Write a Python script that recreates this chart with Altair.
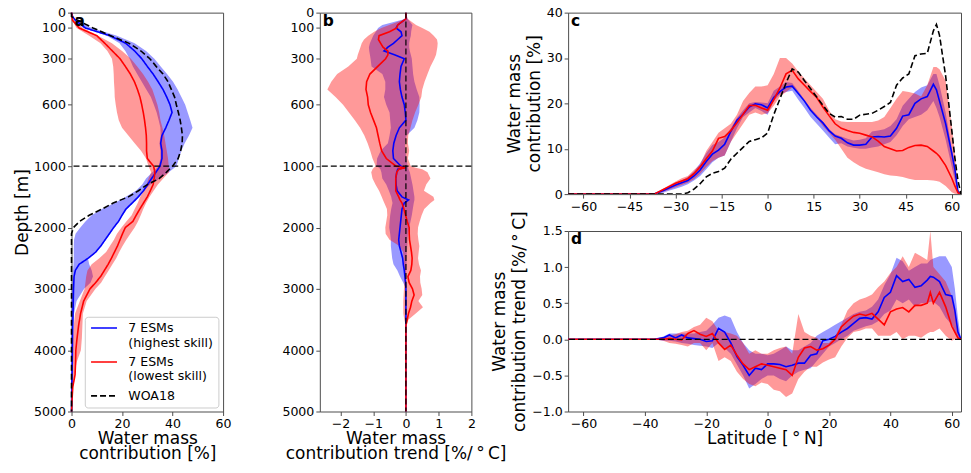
import altair as alt
import pandas as pd

# ---------------- data ----------------
SERIES = ["7 ESMs|(highest skill)", "7 ESMs|(lowest skill)", "WOA18"]
DEPTH_TICKS = [0, 100, 300, 600, 1000, 2000, 3000, 4000, 5000]
REF_DEPTH = [1000]
REF_ZERO = [0]

# panel a : water mass contribution vs depth
DEPTH_A = [0, 25, 50, 100, 150, 200, 250, 300, 350, 400, 450, 500, 550, 600, 650, 700, 750, 800, 850, 900,
           950, 1000, 1100, 1200, 1300, 1400, 1500, 1600, 1700, 1800, 1900, 2000, 2100, 2200, 2300, 2400, 2500,
           2600, 2700, 2800, 2900, 3000, 3200, 3400, 3600, 3800, 4000, 4200, 4400, 4600, 4800, 5000]
BLUE_A = [0, 0.4, 1.5, 5.5, 15.2, 21.5, 25.0, 27.8, 30.0, 32.3, 34.3, 36.2, 37.7, 39.0, 39.8, 38.6, 37.3, 35.8,
          35.3, 35.8, 35.8, 35.0, 33.4, 31.7, 30.1, 28.5, 26.4, 24.0, 21.5, 20.0, 18.6, 16.7, 15.0, 13.3, 11.6,
          9.6, 6.6, 3.0, 1.5, 1.0, 0.9, 0.8, 0.7, 0.6, 0.5, 0.4, 0.35, 0.3, 0.2, 0.1, 0.05, 0]
BLUE_A_LO = [0, 0.3, 1.2, 4.8, 14.0, 19.0, 21.3, 23.0, 24.3, 26.0, 27.8, 29.6, 31.4, 32.6, 33.7, 34.5, 35.2,
             35.3, 34.8, 35.2, 35.2, 34.5, 32.0, 29.5, 28.0, 25.5, 21.5, 17.0, 12.0, 8.0, 5.5, 3.5, 1.6, 1.0,
             0.9, 0.9, 0.9, 0.8, 0.6, 0.5, 0.4, 0.3, 0, 0, 0, 0, 0, 0, 0, 0, 0, 0]
BLUE_A_HI = [0, 0.5, 2.0, 8.0, 18.0, 25.0, 29.5, 32.8, 35.3, 37.8, 40.2, 42.0, 43.5, 45.0, 46.0, 47.0, 47.9,
             46.5, 44.8, 43.5, 42.5, 41.5, 38.5, 35.0, 31.2, 28.5, 27.0, 24.5, 22.0, 20.2, 18.8, 16.8, 15.2,
             13.5, 11.8, 9.8, 6.5, 7.0, 8.0, 8.5, 7.5, 5.0, 2.0, 1.0, 0.6, 0.4, 0.3, 0.2, 0.1, 0, 0, 0]
RED_A = [0, 0.2, 0.4, 3.0, 10.0, 13.2, 16.2, 19.2, 21.3, 23.3, 24.9, 26.1, 27.1, 27.8, 28.4, 28.9, 29.3, 29.6,
         29.7, 29.7, 30.0, 32.5, 33.0, 32.7, 32.3, 31.2, 30.0, 28.5, 27.0, 25.6, 24.3, 21.3, 20.2, 19.2, 18.2,
         17.0, 15.8, 14.5, 13.0, 11.5, 9.5, 7.3, 4.8, 3.6, 2.8, 2.2, 1.7, 1.6, 1.4, 0.5, 0.2, 0]
RED_A_LO = [0, 0.1, 0.3, 2.0, 7.0, 11.5, 14.2, 16.0, 16.5, 16.7, 16.8, 17.0, 17.1, 17.5, 18.0, 18.7, 20.0, 22.5,
            25.0, 27.5, 29.5, 30.5, 31.5, 30.5, 29.7, 28.5, 27.2, 26.2, 25.0, 23.8, 21.7, 19.8, 18.0, 16.8, 15.2,
            13.7, 11.0, 8.0, 6.3, 5.8, 5.5, 5.2, 3.3, 1.4, 0.9, 0.6, 0.4, 0.3, 0.2, 0, 0, 0]
RED_A_HI = [0, 0.3, 1.0, 4.5, 10.5, 16.0, 20.0, 23.5, 26.0, 28.3, 30.3, 32.0, 33.0, 34.0, 34.7, 35.2, 36.0, 36.7,
            37.2, 37.7, 38.2, 38.5, 38.6, 36.3, 34.2, 32.5, 30.9, 29.5, 28.4, 27.4, 26.3, 25.0, 23.3, 21.7, 20.2,
            18.9, 17.7, 16.2, 14.7, 13.2, 11.7, 9.5, 6.0, 4.5, 4.3, 4.1, 3.7, 2.0, 1.2, 0.6, 0.2, 0]
WOA_A = [0, 0, 2.5, 8.5, 15.5, 22.8, 27.5, 31.0, 33.5, 36.2, 38.2, 39.5, 40.8, 41.5, 42.3, 43.0, 43.5, 43.9,
         43.8, 43.2, 42.2, 40.0, 37.5, 34.8, 30.0, 26.5, 22.5, 16.5, 12.0, 7.0, 3.2, 0.8, 0, 0, 0, 0, 0, 0, 0,
         0, 0, 0, 0, 0, 0, 0, 0, 0, 0, 0, 0, 0]

# panel b : contribution trend vs depth
DEPTH_B = [0, 40, 80, 100, 125, 150, 175, 200, 225, 250, 275, 300, 350, 400, 450, 500, 550, 600, 650, 700, 750,
           800, 850, 900, 950, 1000, 1025, 1050, 1100, 1200, 1300, 1400, 1500, 1550, 1600, 1700, 1800, 1900,
           2000, 2100, 2200, 2300, 2400, 2500, 2600, 2700, 2800, 2900, 3000, 3100, 3200, 3300, 3400, 3500,
           3600, 3800, 4000, 4500, 5000]
BLUE_B = [0, 0, -0.25, -0.3, -0.15, -0.12, -0.25, -0.38, -0.55, -0.67, -0.35, -0.05, -0.15, -0.18, -0.2, -0.17,
          -0.12, -0.05, -0.02, 0.0, -0.2, -0.3, -0.37, -0.4, -0.38, -0.15, -0.05, -0.25, -0.28, -0.31, -0.3,
          -0.27, -0.12, 0.08, -0.05, -0.12, -0.14, -0.16, -0.18, -0.2, -0.22, -0.2, -0.15, -0.1, -0.08, -0.05,
          -0.03, -0.01, 0, 0, 0, 0, 0, 0, 0, 0, 0, 0, 0]
BLUE_B_LO = [0, 0, -0.72, -0.85, -0.92, -1.0, -1.05, -1.1, -1.13, -1.12, -1.1, -1.08, -1.05, -0.72, -0.63,
             -0.63, -0.67, -0.6, -0.5, -0.48, -0.46, -0.5, -0.55, -0.77, -0.88, -0.9, -0.82, -0.78, -0.75, -0.72,
             -0.6, -0.52, -0.45, -0.43, -0.41, -0.45, -0.48, -0.5, -0.51, -0.48, -0.46, -0.46, -0.44, -0.42,
             -0.38, -0.26, -0.18, -0.08, 0, 0, 0, 0, 0, 0, 0, 0, 0, 0, 0]
BLUE_B_HI = [0, 0.05, 0.2, 0.18, 0.16, 0.15, 0.12, 0.1, 0.1, 0.12, 0.15, 0.18, 0.2, 0.22, 0.26, 0.33, 0.41,
             0.42, 0.41, 0.35, 0.26, 0.02, -0.03, -0.02, 0.02, 0.05, 0.07, 0.08, 0.12, 0.16, 0.2, 0.23, 0.26,
             0.26, 0.24, 0.21, 0.18, 0.14, 0.1, 0.06, 0.05, 0.04, 0.03, 0.02, 0.02, 0.01, 0.01, 0, 0, 0, 0, 0,
             0, 0, 0, 0, 0, 0, 0]
RED_B = [0, 0, -0.25, -0.28, -0.5, -0.82, -0.84, -0.77, -0.7, -0.55, -0.55, -0.62, -0.86, -1.1, -1.2, -1.22,
         -1.17, -1.15, -1.08, -0.99, -0.9, -0.85, -0.8, -0.74, -0.6, -0.3, -0.02, -0.22, -0.28, -0.31, -0.31,
         -0.31, -0.22, -0.18, -0.12, -0.06, -0.01, 0.04, 0.1, 0.1, 0.11, 0.14, 0.17, 0.19, 0.18, 0.15, 0.06,
         0.1, 0.2, 0.25, 0.18, 0.14, 0.08, 0.04, 0, 0, 0, 0, 0]
RED_B_LO = [0, 0, -0.51, -0.75, -0.97, -1.15, -1.28, -1.35, -1.39, -1.43, -1.47, -1.5, -1.76, -2.1, -2.28, -2.4,
            -2.15, -1.92, -1.74, -1.56, -1.4, -1.27, -1.17, -1.09, -1.02, -0.92, -0.98, -1.02, -1.06, -1.02,
            -0.93, -0.82, -0.74, -0.7, -0.66, -0.58, -0.57, -0.6, -0.63, -0.62, -0.5, -0.2, -0.09, -0.07, -0.06,
            -0.06, -0.05, -0.05, -0.06, -0.07, -0.08, -0.08, -0.08, -0.05, 0, 0, 0, 0, 0]
RED_B_HI = [0, 0.05, 0.31, 0.5, 0.72, 0.85, 0.95, 0.97, 0.96, 0.94, 0.92, 0.87, 0.75, 0.66, 0.57, 0.5, 0.47,
            0.38, 0.28, 0.2, 0.14, 0.07, 0.06, 0.1, 0.06, 0.15, 0.3, 0.5, 0.66, 0.75, 0.62, 0.55, 0.84, 0.87,
            0.75, 0.56, 0.48, 0.42, 0.37, 0.36, 0.38, 0.41, 0.39, 0.37, 0.4, 0.46, 0.43, 0.44, 0.48, 0.5, 0.38,
            0.52, 0.3, 0.08, 0, 0, 0, 0, 0]

# panel c : contribution vs latitude
LAT_C = [-65, -60, -55, -50, -45, -40, -37, -34, -32, -30, -28, -26, -24, -22, -20, -18, -16, -14, -12, -10,
         -8, -6, -4, -2, 0, 2, 4, 6, 8, 10, 12, 14, 16, 18, 20, 22, 24, 26, 28, 30, 32, 34, 36, 38, 40, 42, 44,
         46, 48, 50, 52, 54, 55, 56, 58, 60, 61, 62, 63, 65]
BLUE_C = [0, 0, 0, 0, 0, 0, 0, 0.8, 1.4, 2.0, 2.5, 3.0, 4.0, 5.3, 7.2, 8.8, 9.7, 11.0, 13.8, 16.3, 17.6, 19.2,
          19.9, 19.7, 19.0, 21.3, 22.6, 23.6, 23.8, 22.2, 20.5, 18.5, 17.0, 15.7, 14.0, 12.8, 12.3, 11.3, 10.8,
          10.8, 11.0, 12.6, 12.7, 12.6, 12.8, 14.5, 17.2, 17.5, 20.0, 21.0, 21.5, 24.2, 23.0, 20.5, 15.5, 9.0,
          5.5, 0.5, 0, 0]
BLUE_C_LO = [0, 0, 0, 0, 0, 0, 0, 0.3, 0.8, 1.2, 1.6, 2.2, 3.0, 4.0, 5.5, 7.0, 8.0, 8.5, 11.5, 14.5, 17.0, 18.0,
             19.0, 18.3, 17.5, 20.5, 22.0, 22.5, 22.8, 20.8, 19.0, 17.0, 15.5, 14.0, 12.5, 11.0, 11.2, 10.5,
             10.2, 10.0, 10.0, 10.3, 10.5, 11.0, 11.5, 13.0, 15.0, 16.5, 17.0, 17.5, 18.5, 20.5, 19.0, 17.0,
             12.0, 6.0, 3.0, 0, 0, 0]
BLUE_C_HI = [0, 0, 0, 0, 0, 0, 0, 1.0, 1.8, 2.5, 3.0, 3.8, 5.0, 6.8, 9.0, 10.8, 11.5, 12.5, 14.5, 16.8, 18.5,
             20.0, 20.3, 20.2, 20.0, 22.8, 23.7, 24.7, 24.5, 22.7, 20.8, 19.0, 17.5, 16.0, 14.3, 13.2, 12.7,
             12.2, 11.8, 12.0, 12.3, 13.8, 14.0, 14.3, 15.0, 16.5, 19.5, 21.0, 22.5, 23.5, 24.0, 26.5, 26.5,
             24.0, 18.0, 10.0, 6.0, 1.0, 0, 0]
RED_C = [0, 0, 0, 0, 0, 0, 0, 1.0, 1.7, 2.4, 2.9, 3.4, 4.5, 6.0, 7.8, 9.5, 12.3, 12.7, 14.0, 15.7, 17.6, 19.5,
         19.6, 19.0, 18.5, 20.8, 23.4, 26.5, 27.3, 25.4, 24.0, 22.6, 21.3, 19.2, 17.3, 15.5, 14.5, 14.0, 13.6,
         13.4, 13.0, 12.6, 11.7, 10.5, 10.0, 9.5, 9.6, 10.3, 10.7, 10.8, 10.5, 9.5, 9.0, 8.3, 6.3, 3.5, 1.8,
         0.3, 0, 0]
RED_C_LO = [0, 0, 0, 0, 0, 0, 0, 0.5, 1.0, 1.5, 2.0, 2.5, 3.3, 4.5, 6.0, 7.3, 8.0, 8.5, 11.5, 13.5, 15.5, 17.5,
            18.0, 17.5, 17.8, 19.5, 21.5, 22.5, 23.5, 22.5, 20.5, 18.5, 16.8, 15.0, 13.5, 12.0, 10.0, 8.0, 7.0,
            6.2, 5.6, 5.2, 4.8, 4.4, 4.1, 4.0, 3.8, 3.4, 3.1, 3.1, 3.1, 3.0, 2.9, 2.7, 1.8, 0.4, 0.1, 0, 0, 0]
RED_C_HI = [0, 0, 0, 0, 0, 0, 0, 1.2, 2.0, 2.8, 3.5, 4.0, 5.3, 6.5, 9.5, 11.5, 13.5, 14.5, 15.5, 17.5, 20.5,
            22.3, 23.7, 23.7, 24.0, 26.5, 30.0, 30.0, 28.8, 27.0, 25.5, 24.0, 22.5, 21.0, 18.5, 16.5, 16.0,
            15.9, 15.9, 15.9, 15.9, 15.9, 16.2, 17.0, 19.0, 21.0, 22.7, 22.5, 22.2, 21.5, 24.0, 28.0, 28.0,
            27.5, 25.0, 15.0, 9.0, 1.0, 0, 0]
WOA_C = [0, 0, 0, 0, 0, 0, 0, 0, 0, 0, 0, 0.3, 1.1, 2.3, 3.8, 4.6, 5.0, 5.7, 7.7, 9.0, 10.3, 11.6, 12.0, 12.4,
         13.5, 17.5, 21.0, 24.5, 27.6, 26.9, 25.0, 23.2, 21.4, 19.6, 17.8, 17.0, 17.1, 16.5, 16.5, 17.4, 17.6,
         17.8, 18.5, 19.3, 20.2, 24.0, 25.6, 26.5, 30.5, 30.9, 31.0, 36.0, 37.4, 35.0, 26.0, 14.0, 8.0, 3.0, 0,
         0]

# panel d : contribution trend vs latitude
LAT_D = [-65, -60, -55, -50, -45, -40, -37, -34, -32, -30, -28, -26, -24, -22, -20, -18, -16, -14, -12, -10,
         -8, -6, -4, -2, 0, 2, 4, 6, 8, 10, 12, 14, 16, 18, 20, 22, 24, 26, 28, 30, 32, 34, 36, 38, 40, 42, 44,
         46, 48, 50, 52, 53, 54, 56, 58, 60, 61, 62, 63, 65]
BLUE_D = [0, 0, 0, 0, 0, 0, 0, 0.02, 0.06, 0.02, 0.06, 0.02, 0.01, 0, -0.03, -0.02, 0.15, 0.1, -0.05, -0.24,
          -0.36, -0.5, -0.4, -0.42, -0.34, -0.34, -0.35, -0.38, -0.36, -0.33, -0.33, -0.22, -0.2, -0.02, 0,
          0.04, 0.1, 0.15, 0.22, 0.29, 0.3, 0.28, 0.38, 0.58, 0.65, 0.88, 0.8, 0.83, 0.72, 0.74, 0.82, 0.87,
          0.86, 0.8, 0.62, 0.6, 0.4, 0.1, 0, 0]
BLUE_D_LO = [0, 0, 0, 0, 0, 0, 0, -0.02, -0.02, -0.03, -0.05, -0.06, -0.08, -0.09, -0.1, -0.12, -0.05, -0.12,
             -0.2, -0.35, -0.5, -0.68, -0.62, -0.55, -0.5, -0.5, -0.55, -0.58, -0.5, -0.45, -0.42, -0.4, -0.3,
             -0.2, -0.1, -0.05, 0, 0.05, 0.12, 0.15, 0.18, 0.2, 0.25, 0.35, 0.4, 0.55, 0.5, 0.55, 0.45, 0.5, 0.5,
             0.52, 0.52, 0.45, 0.3, 0.2, 0.1, 0, 0, 0]
BLUE_D_HI = [0, 0, 0, 0, 0, 0, 0, 0.04, 0.08, 0.08, 0.08, 0.08, 0.08, 0.1, 0.12, 0.2, 0.3, 0.33, 0.3, 0.1,
             -0.05, -0.15, -0.2, -0.2, -0.22, -0.2, -0.15, -0.1, -0.15, -0.15, -0.1, -0.05, 0.05, 0.1, 0.15,
             0.2, 0.25, 0.3, 0.35, 0.38, 0.4, 0.45, 0.55, 0.75, 0.9, 1.13, 1.08, 0.95, 1.0, 1.05, 1.05, 1.1,
             1.12, 1.15, 1.15, 1.0, 0.7, 0.3, 0, 0]
RED_D = [0, 0, 0, 0, 0, 0, 0, 0, 0.01, 0, -0.01, 0.08, 0.12, 0.07, 0.04, 0.08, -0.05, -0.14, -0.08, -0.22,
         -0.34, -0.42, -0.38, -0.34, -0.36, -0.38, -0.4, -0.42, -0.5, -0.25, -0.12, -0.1, -0.15, -0.13, -0.08,
         0, 0.17, 0.25, 0.32, 0.35, 0.33, 0.36, 0.28, 0.2, 0.38, 0.42, 0.44, 0.38, 0.47, 0.47, 0.5, 0.65, 0.5,
         0.65, 0.45, 0.18, 0.1, 0.02, 0, 0]
RED_D_LO = [0, 0, 0, 0, 0, 0, 0, -0.02, -0.05, -0.06, -0.08, -0.1, -0.05, -0.05, -0.15, -0.05, -0.3, -0.25,
            -0.3, -0.45, -0.55, -0.62, -0.65, -0.6, -0.62, -0.7, -0.72, -0.8, -0.75, -0.55, -0.45, -0.38, -0.38,
            -0.32, -0.28, -0.25, -0.1, 0.02, 0.1, 0.12, 0.15, 0.15, 0.05, 0.05, 0.05, 0.1, 0.0, 0.05, 0.05,
            0.02, 0.08, 0.1, 0.1, 0.15, 0.05, -0.02, 0, 0, 0, 0]
RED_D_HI = [0, 0, 0, 0, 0, 0, 0, 0.03, 0.05, 0.07, 0.1, 0.12, 0.17, 0.2, 0.3, 0.25, 0.12, 0.1, 0.08, 0.05,
            -0.05, -0.2, -0.15, -0.2, -0.2, -0.15, -0.12, -0.1, -0.2, 0.35, 0.1, 0.05, 0.02, -0.05, -0.05, 0.05,
            0.2, 0.4, 0.5, 0.55, 0.58, 0.62, 0.72, 0.8, 0.92, 1.0, 1.15, 1.0, 1.2, 1.15, 1.1, 1.5, 1.0, 0.9,
            0.8, 0.6, 0.4, 0.1, 0, 0]

# ---------------- style ----------------
FONT = "DejaVu Sans"
FRAME = "#4d4d4d"
BLUE = "#0000ff"
RED = "#ff0000"
LW = 1.6
DASH = [6, 3]
BAND_OP = 0.4
LAT_DOMAIN = [-65, 63]

depth_scale = alt.Scale(domain=[0, 1000, 5000], range=[0, 154, 400], nice=False, zero=False)


def depth_y(field, title):
    return alt.Y(field, type="quantitative", scale=depth_scale,
                 axis=alt.Axis(values=DEPTH_TICKS, format="d", title=title, titlePadding=2))


def qx(field, domain, values, title, fmt="d"):
    return alt.X(field, type="quantitative", scale=alt.Scale(domain=domain, nice=False, zero=False),
                 axis=alt.Axis(values=values, format=fmt, title=title, titlePadding=0, titleLineHeight=16))


def qy(field, domain, values, title, fmt="d", tp=3):
    return alt.Y(field, type="quantitative", scale=alt.Scale(domain=domain, nice=False, zero=False),
                 axis=alt.Axis(values=values, format=fmt, title=title, titlePadding=tp, titleLineHeight=20))


def panel_label(letter):
    return alt.Chart(pd.DataFrame({"t": [letter]})).mark_text(
        align="left", baseline="alphabetic", font=FONT, fontSize=15.5, fontWeight="bold", color="black"
    ).encode(text="t:N", x=alt.value(3), y=alt.value(13.5))


# ---------------- panel a ----------------
XA = dict(domain=[0, 60], values=[0, 20, 40, 60], title=["Water mass", "contribution [%]"])
YA_T = "Depth [m]"
df_a = pd.DataFrame({"depth": DEPTH_A, "blo": BLUE_A_LO, "bhi": BLUE_A_HI, "rlo": RED_A_LO, "rhi": RED_A_HI})
long_a = pd.concat([
    pd.DataFrame({"depth": DEPTH_A, "value": BLUE_A, "series": SERIES[0]}),
    pd.DataFrame({"depth": DEPTH_A, "value": RED_A, "series": SERIES[1]}),
    pd.DataFrame({"depth": DEPTH_A, "value": WOA_A, "series": SERIES[2]}),
])
legend_a = alt.Legend(
    orient="none", legendX=13.3, legendY=305, title=None, labelExpr="split(datum.label, '|')",
    fillColor="rgba(255,255,255,0.8)", strokeColor="#cccccc", cornerRadius=3, padding=5,
    symbolType="M-1,0H4.2", symbolSize=100, symbolStrokeWidth=LW, labelFont=FONT, labelFontSize=12.6,
    labelColor="black", labelOffset=26, rowPadding=6, labelLimit=200,
)
band_a_b = alt.Chart(df_a).mark_area(orient="horizontal", color=BLUE, opacity=BAND_OP).encode(
    y=depth_y("depth", YA_T), x=qx("blo", **XA), x2="bhi:Q")
band_a_r = alt.Chart(df_a).mark_area(orient="horizontal", color=RED, opacity=BAND_OP).encode(
    y=depth_y("depth", YA_T), x=qx("rlo", **XA), x2="rhi:Q")
lines_a = alt.Chart(long_a).mark_line(strokeWidth=LW).encode(
    y=depth_y("depth", YA_T), x=qx("value", **XA), order="depth:Q",
    color=alt.Color("series:N", scale=alt.Scale(domain=SERIES, range=[BLUE, RED, "black"]), legend=legend_a),
    strokeDash=alt.StrokeDash("series:N", scale=alt.Scale(domain=SERIES, range=[[1, 0], [1, 0], DASH]),
                              legend=legend_a),
)
rule_a = alt.Chart(pd.DataFrame({"d": REF_DEPTH})).mark_rule(color="black", strokeDash=DASH, strokeWidth=1.2).encode(
    y=depth_y("d", YA_T))
panel_a = alt.layer(band_a_b, band_a_r, lines_a, rule_a, panel_label("a")).properties(width=152, height=400)

# ---------------- panel b ----------------
XB = dict(domain=[-2.63, 2], values=[-2, -1, 0, 1, 2], title=["Water mass", "contribution trend [%/\u2009°\u2009C]"])
df_b = pd.DataFrame({"depth": DEPTH_B, "blue": BLUE_B, "red": RED_B, "blo": BLUE_B_LO, "bhi": BLUE_B_HI,
                     "rlo": RED_B_LO, "rhi": RED_B_HI})
band_b_b = alt.Chart(df_b).mark_area(orient="horizontal", color=BLUE, opacity=BAND_OP).encode(
    y=depth_y("depth", None), x=qx("blo", **XB), x2="bhi:Q")
band_b_r = alt.Chart(df_b).mark_area(orient="horizontal", color=RED, opacity=BAND_OP).encode(
    y=depth_y("depth", None), x=qx("rlo", **XB), x2="rhi:Q")
line_b_b = alt.Chart(df_b).mark_line(color=BLUE, strokeWidth=LW).encode(
    y=depth_y("depth", None), x=qx("blue", **XB), order="depth:Q")
line_b_r = alt.Chart(df_b).mark_line(color=RED, strokeWidth=LW).encode(
    y=depth_y("depth", None), x=qx("red", **XB), order="depth:Q")
rule_b_h = alt.Chart(pd.DataFrame({"d": REF_DEPTH})).mark_rule(color="black", strokeDash=DASH, strokeWidth=1.2).encode(
    y=depth_y("d", None))
rule_b_v = alt.Chart(pd.DataFrame({"v": REF_ZERO})).mark_rule(color="black", strokeDash=DASH, strokeWidth=1.2).encode(
    x=qx("v", **XB))
panel_b = alt.layer(band_b_b, band_b_r, line_b_b, line_b_r, rule_b_h, rule_b_v, panel_label("b")).properties(
    width=152, height=400)

# ---------------- panel c ----------------
XC = dict(domain=LAT_DOMAIN, values=list(range(-60, 61, 15)), title=None)
YC = dict(domain=[0, 40], values=[0, 10, 20, 30, 40], title=["Water mass", "contribution [%]"])
df_c = pd.DataFrame({"lat": LAT_C, "blue": BLUE_C, "red": RED_C, "woa": WOA_C, "blo": BLUE_C_LO,
                     "bhi": BLUE_C_HI, "rlo": RED_C_LO, "rhi": RED_C_HI})
band_c_b = alt.Chart(df_c).mark_area(color=BLUE, opacity=BAND_OP, clip=True).encode(
    x=qx("lat", **XC), y=qy("blo", **YC), y2="bhi:Q")
band_c_r = alt.Chart(df_c).mark_area(color=RED, opacity=BAND_OP, clip=True).encode(
    x=qx("lat", **XC), y=qy("rlo", **YC), y2="rhi:Q")
line_c_b = alt.Chart(df_c).mark_line(color=BLUE, strokeWidth=LW, clip=True).encode(
    x=qx("lat", **XC), y=qy("blue", **YC))
line_c_r = alt.Chart(df_c).mark_line(color=RED, strokeWidth=LW, clip=True).encode(
    x=qx("lat", **XC), y=qy("red", **YC))
line_c_w = alt.Chart(df_c).mark_line(color="black", strokeWidth=LW, strokeDash=DASH, clip=True).encode(
    x=qx("lat", **XC), y=qy("woa", **YC))
panel_c = alt.layer(band_c_b, band_c_r, line_c_b, line_c_r, line_c_w, panel_label("c")).properties(
    width=394, height=182)

# ---------------- panel d ----------------
XD = dict(domain=LAT_DOMAIN, values=list(range(-60, 61, 20)), title="Latitude [\u2009°\u2009N]")
YD = dict(domain=[-1, 1.5], values=[-1.0, -0.5, 0.0, 0.5, 1.0, 1.5], title=["Water mass", "contribution trend [%/\u2009°\u2009C]"],
          fmt=".1f")
df_d = pd.DataFrame({"lat": LAT_D, "blue": BLUE_D, "red": RED_D, "blo": BLUE_D_LO, "bhi": BLUE_D_HI,
                     "rlo": RED_D_LO, "rhi": RED_D_HI})
band_d_b = alt.Chart(df_d).mark_area(color=BLUE, opacity=BAND_OP, clip=True).encode(
    x=qx("lat", **XD), y=qy("blo", **YD), y2="bhi:Q")
band_d_r = alt.Chart(df_d).mark_area(color=RED, opacity=BAND_OP, clip=True).encode(
    x=qx("lat", **XD), y=qy("rlo", **YD), y2="rhi:Q")
line_d_b = alt.Chart(df_d).mark_line(color=BLUE, strokeWidth=LW, clip=True).encode(
    x=qx("lat", **XD), y=qy("blue", **YD))
line_d_r = alt.Chart(df_d).mark_line(color=RED, strokeWidth=LW, clip=True).encode(
    x=qx("lat", **XD), y=qy("red", **YD))
rule_d = alt.Chart(pd.DataFrame({"z": REF_ZERO})).mark_rule(color="black", strokeDash=DASH, strokeWidth=1.2).encode(
    y=qy("z", **YD))
panel_d = alt.layer(band_d_b, band_d_r, line_d_b, line_d_r, rule_d, panel_label("d")).properties(
    width=394, height=181)

# ---------------- layout ----------------
right = alt.vconcat(panel_c, panel_d, spacing=37, bounds="flush")
chart = alt.hconcat(panel_a, panel_b, right, spacing=97, bounds="flush").resolve_scale(
    color="independent", strokeDash="independent"
).properties(
    padding={"left": 4.7, "top": -3, "right": 0, "bottom": -1.5}
).configure_view(
    stroke=FRAME, strokeWidth=1
).configure_axis(
    domain=False, grid=False, tickColor=FRAME, tickSize=4, tickWidth=1,
    labelFont=FONT, labelFontSize=12.6, labelColor="black", labelPadding=2, labelFlush=False,
    labelOverlap=False, titleFont=FONT, titleFontSize=17, titleFontWeight="normal", titleColor="black",
)

chart.save("out.html", embed_options={"renderer": "svg", "actions": False})
